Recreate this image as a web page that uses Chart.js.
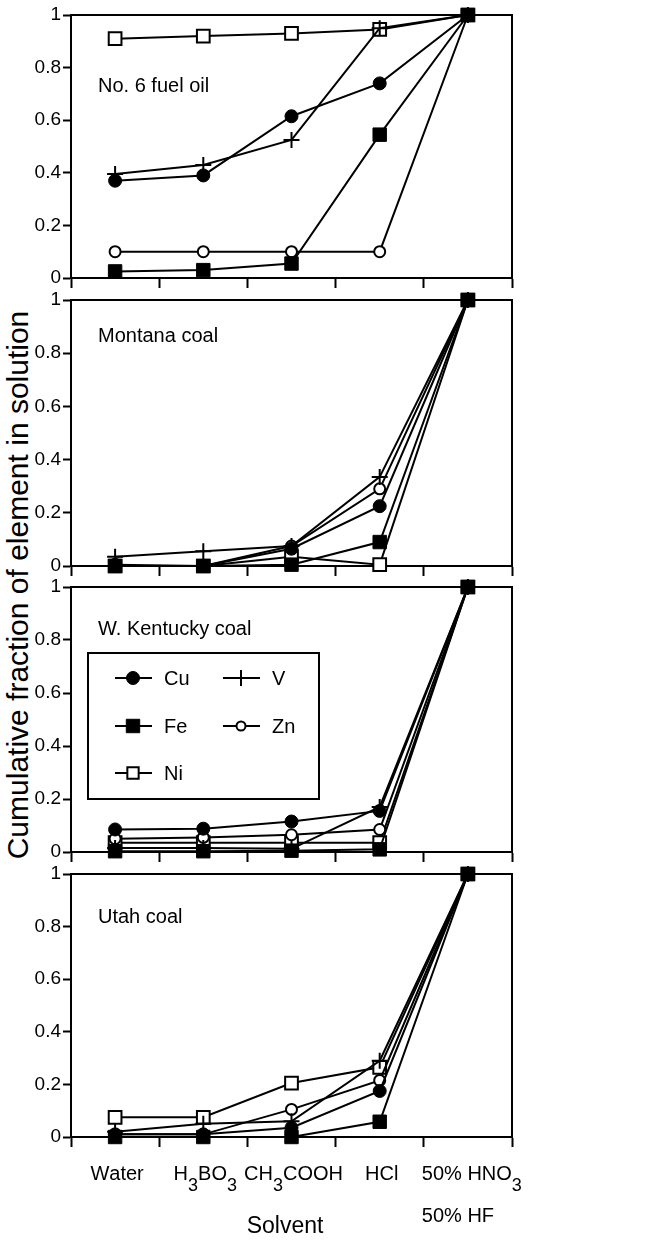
<!DOCTYPE html>
<html>
<head>
<meta charset="utf-8">
<script src="https://cdn.jsdelivr.net/npm/chart.js@4.4.0/dist/chart.umd.min.js"></script>
<style>
  html, body { margin: 0; padding: 0; background: #fff; }
  #wrap { position: relative; width: 645px; height: 1242px; overflow: hidden; }
  #wrap canvas { position: absolute; left: 0; }
  #ytitle {
    position: absolute; left: 18px; top: 585px;
    transform: translate(-50%, -50%) rotate(-90deg);
    font: 30px "Liberation Sans", Arial, sans-serif;
    line-height: 30px;
    white-space: nowrap; color: #000;
  }
</style>
</head>
<body>
<div id="wrap">
  <div id="ytitle">Cumulative fraction of element in solution</div>
</div>
<script>
// solvents, digit after a letter = subscript, \n = second line
const categories = ['Water', 'H3BO3', 'CH3COOH', 'HCl', '50% HNO3\n50% HF'];
const elements = ['Cu', 'Fe', 'Ni', 'V', 'Zn'];
const yTicks = [0, 0.2, 0.4, 0.6, 0.8, 1];

// No. 6 fuel oil
const oilCu = [0.37, 0.39, 0.615, 0.74, 1];
const oilFe = [0.025, 0.03, 0.055, 0.545, 1];
const oilNi = [0.91, 0.92, 0.93, 0.945, 1];
const oilV  = [0.395, 0.43, 0.525, 0.95, 1];
const oilZn = [0.1, 0.1, 0.1, 0.1, 1];

// Montana coal
const monCu = [0.005, 0, 0.065, 0.225, 1];
const monFe = [0, 0, 0.005, 0.09, 1];
const monNi = [0, 0, 0.035, 0.005, 1];
const monV  = [0.035, 0.055, 0.075, 0.335, 1];
const monZn = [0, 0, 0.075, 0.29, 1];

// W. Kentucky coal
const kyCu = [0.085, 0.088, 0.115, 0.155, 1];
const kyFe = [0.003, 0.003, 0.005, 0.01, 1];
const kyNi = [0.035, 0.035, 0.035, 0.035, 1];
const kyV  = [0.015, 0.015, 0.012, 0.17, 1];
const kyZn = [0.05, 0.055, 0.065, 0.085, 1];

// Utah coal
const utCu = [0.01, 0.01, 0.035, 0.175, 1];
const utFe = [0, 0, 0, 0.058, 1];
const utNi = [0.075, 0.075, 0.205, 0.265, 1];
const utV  = [0.02, 0.05, 0.06, 0.29, 1];
const utZn = [0.01, 0.01, 0.105, 0.215, 1];

const FONT = '"Liberation Sans", Arial, sans-serif';
Chart.defaults.font.family = FONT;
Chart.defaults.color = '#000';

const markers = {
  Cu: { pointStyle: 'circle', pointRadius: 6.5, pointBackgroundColor: '#000', pointBorderWidth: 1 },
  Fe: { pointStyle: 'rect', pointRadius: 9.5, pointBackgroundColor: '#000', pointBorderWidth: 1 },
  Ni: { pointStyle: 'rect', pointRadius: 9, pointBackgroundColor: '#fff', pointBorderWidth: 2 },
  V:  { pointStyle: 'cross', pointRadius: 8, pointBackgroundColor: '#000', pointBorderWidth: 2 },
  Zn: { pointStyle: 'circle', pointRadius: 5.5, pointBackgroundColor: '#fff', pointBorderWidth: 2 }
};

const panels = [
  { name: 'No. 6 fuel oil', top: 15, bottom: 278, nameY: 77, series: { Cu: oilCu, Fe: oilFe, Ni: oilNi, V: oilV, Zn: oilZn } },
  { name: 'Montana coal', top: 300, bottom: 566, nameY: 42, series: { Cu: monCu, Fe: monFe, Ni: monNi, V: monV, Zn: monZn } },
  { name: 'W. Kentucky coal', top: 587, bottom: 852, nameY: 48, legend: true, series: { Cu: kyCu, Fe: kyFe, Ni: kyNi, V: kyV, Zn: kyZn } },
  { name: 'Utah coal', top: 874, bottom: 1137, nameY: 49, axisLabels: true, series: { Cu: utCu, Fe: utFe, Ni: utNi, V: utV, Zn: utZn } }
];

// draw a label with subscripts (digit right after a letter)
function drawChem(ctx, text, x, y, align) {
  const parts = [];
  for (let i = 0; i < text.length; i++) {
    const sub = /\d/.test(text[i]) && i > 0 && /[A-Za-z]/.test(text[i - 1]);
    parts.push({ t: text[i], sub });
  }
  const mainF = '20px ' + FONT, subF = '18px ' + FONT;
  let w = 0;
  parts.forEach(p => { ctx.font = p.sub ? subF : mainF; p.w = ctx.measureText(p.t).width; w += p.w; });
  let cx = align === 'left' ? x : x - w / 2;
  parts.forEach(p => {
    ctx.font = p.sub ? subF : mainF;
    ctx.fillText(p.t, cx, p.sub ? y + 11 : y);
    cx += p.w;
  });
}

const panelPlugin = {
  id: 'panelDecor',
  beforeDatasetsDraw(chart) {
    const { ctx, chartArea: a } = chart;
    ctx.save();
    ctx.strokeStyle = '#000';
    ctx.lineWidth = 2;
    ctx.strokeRect(a.left, a.top, a.right - a.left, a.bottom - a.top);
    ctx.restore();
  },
  afterDraw(chart, args, opts) {
    const { ctx, chartArea: a } = chart;
    ctx.save();
    ctx.fillStyle = '#000';
    ctx.textBaseline = 'alphabetic';
    ctx.textAlign = 'left';
    ctx.font = '20px ' + FONT;
    ctx.fillText(opts.name, a.left + 27, a.top + opts.nameY);

    if (opts.legend) {
      const bx = 88, by = a.top + 66, bw = 231, bh = 146;
      ctx.fillStyle = '#fff';
      ctx.fillRect(bx, by, bw, bh);
      ctx.strokeStyle = '#000';
      ctx.lineWidth = 2;
      ctx.strokeRect(bx, by, bw, bh);
      const slots = { Cu: [0, 0], V: [1, 0], Fe: [0, 1], Zn: [1, 1], Ni: [0, 2] };
      const colX = [115, 223], rowY = [25, 73, 120];
      chart.data.datasets.forEach(ds => {
        const [c, r] = slots[ds.label];
        const x0 = colX[c], y0 = by + rowY[r];
        ctx.strokeStyle = '#000';
        ctx.lineWidth = 2;
        ctx.beginPath();
        ctx.moveTo(x0, y0);
        ctx.lineTo(x0 + 37, y0);
        ctx.stroke();
        ctx.fillStyle = ds.pointBackgroundColor;
        ctx.lineWidth = ds.pointBorderWidth;
        const rad = ds.label === 'Zn' ? 4.5 : ds.label === 'Ni' ? 8 : ds.pointRadius;
        Chart.helpers.drawPoint(ctx, { pointStyle: ds.pointStyle, radius: rad, borderWidth: ds.pointBorderWidth, rotation: 0 }, x0 + 18, y0);
        ctx.fillStyle = '#000';
        ctx.font = '20px ' + FONT;
        ctx.textBaseline = 'middle';
        ctx.fillText(ds.label, x0 + 49, y0 + 1);
      });
    }

    if (opts.axisLabels) {
      const xs = chart.scales.x;
      ctx.fillStyle = '#000';
      ctx.textBaseline = 'alphabetic';
      categories.forEach((lab, i) => {
        const px = xs.getPixelForValue(i);
        const lines = lab.split('\n');
        if (lines.length > 1) {
          const left = px - (xs.getPixelForValue(1) - xs.getPixelForValue(0)) / 2 - 2;
          lines.forEach((ln, k) => drawChem(ctx, ln, left, a.bottom + 43 + k * 42, 'left'));
        } else {
          drawChem(ctx, lab, px + 2, a.bottom + 43, 'center');
        }
      });
      ctx.font = '23px ' + FONT;
      ctx.textAlign = 'center';
      ctx.fillText('Solvent', 285, a.bottom + 96);
    }
    ctx.restore();
  }
};

const wrap = document.getElementById('wrap');

panels.forEach((p, idx) => {
  const last = idx === panels.length - 1;
  const canvasTop = p.top - 15;
  const height = last ? 1242 - canvasTop : (p.bottom - p.top) + 30;
  const bottomPad = height - 15 - (p.bottom - p.top) - 10;
  const cv = document.createElement('canvas');
  cv.width = 645;
  cv.height = height;
  cv.style.top = canvasTop + 'px';
  cv.style.width = '645px';
  cv.style.height = height + 'px';
  wrap.appendChild(cv);

  const order = ['Fe', 'Cu', 'V', 'Zn', 'Ni'];
  const datasets = order.map(el => Object.assign({
    label: el,
    data: p.series[el],
    borderColor: '#000',
    pointBorderColor: '#000',
    borderWidth: 2,
    tension: 0,
    clip: false
  }, markers[el]));

  new Chart(cv.getContext('2d'), {
    type: 'line',
    data: { labels: categories, datasets },
    options: {
      responsive: false,
      animation: false,
      devicePixelRatio: 1,
      layout: { padding: { left: 0, right: 133, top: 15, bottom: bottomPad } },
      scales: {
        x: {
          type: 'category',
          offset: true,
          ticks: { display: false },
          grid: { display: true, offset: true, drawOnChartArea: false, drawTicks: true, tickLength: 10, tickWidth: 2, tickColor: '#000' },
          border: { display: true, color: '#000', width: 2 },
          afterFit: s => { s.height = 10; }
        },
        y: {
          min: 0,
          max: 1,
          afterBuildTicks: s => { s.ticks = yTicks.map(v => ({ value: v })); },
          ticks: { padding: 2, color: '#000', font: { size: 19 }, callback: v => String(v) },
          grid: { display: true, drawOnChartArea: false, drawTicks: true, tickLength: 8, tickWidth: 2, tickColor: '#000' },
          border: { display: true, color: '#000', width: 2 },
          afterFit: s => { s.width = 71; }
        }
      },
      plugins: {
        legend: { display: false },
        tooltip: { enabled: false },
        panelDecor: { name: p.name, nameY: p.nameY, legend: !!p.legend, axisLabels: !!p.axisLabels }
      }
    },
    plugins: [panelPlugin]
  });
});
</script>
</body>
</html>
